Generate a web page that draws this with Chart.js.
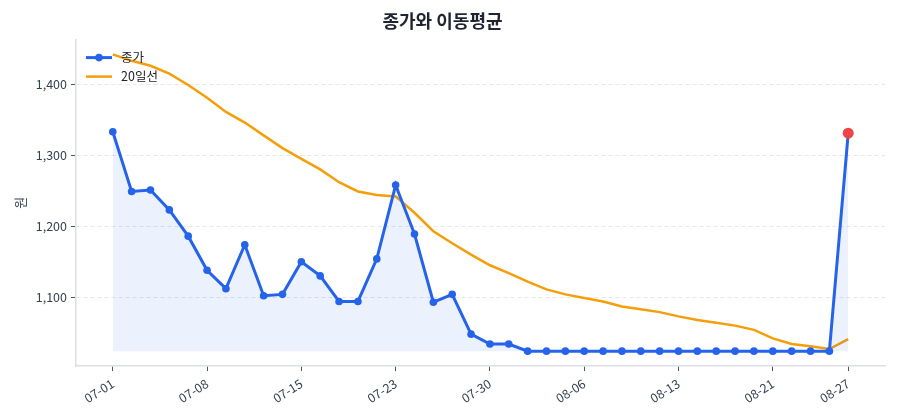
<!DOCTYPE html>
<html>
<head>
<meta charset="utf-8">
<script src="https://cdn.jsdelivr.net/npm/chart.js@4/dist/chart.umd.min.js"></script>
<style>
  html, body { margin: 0; padding: 0; background: #fff; }
  #priceChart { display: block; }
</style>
</head>
<body>
<canvas id="priceChart" width="900" height="420"></canvas>
<script>
var dates = ['07-01','07-02','07-03','07-04','07-07','07-08','07-09','07-10','07-11','07-14',
             '07-15','07-16','07-18','07-21','07-22','07-23','07-24','07-25','07-28','07-29',
             '07-30','07-31','08-01','08-04','08-05','08-06','08-07','08-08','08-11','08-12',
             '08-13','08-14','08-18','08-19','08-20','08-21','08-22','08-25','08-26','08-27'];

var closePrices = [1333, 1249, 1251, 1223, 1186, 1138, 1112, 1174, 1102, 1104,
                   1150, 1130, 1094, 1094, 1154, 1258, 1189, 1093, 1104, 1048,
                   1034, 1034, 1024, 1024, 1024, 1024, 1024, 1024, 1024, 1024,
                   1024, 1024, 1024, 1024, 1024, 1024, 1024, 1024, 1024, 1331];

var ma20 = [1442, 1433, 1426, 1415, 1399, 1381, 1361, 1346, 1328, 1310,
            1295, 1280, 1262, 1249, 1244, 1242, 1219, 1193, 1176, 1160,
            1145, 1134, 1122, 1111, 1104, 1099, 1094, 1087, 1083, 1079,
            1073, 1068, 1064, 1060, 1054, 1042, 1034, 1031, 1027, 1041];

var xTickIdx = [0, 5, 10, 15, 20, 25, 30, 35, 39];
var yTicks = [1100, 1200, 1300, 1400];

var BLUE = '#2563eb';
var ORANGE = '#f59e0b';
var RED = '#ef4444';
var FONT = "'Noto Sans CJK KR', 'Noto Sans', sans-serif";
var lastIdx = closePrices.length - 1;

function toPoints(arr) {
    return arr.map(function (v, i) { return { x: i, y: v }; });
}

var allVals = closePrices.concat(ma20);
var yMin = Math.min.apply(null, allVals);
var yMax = Math.max.apply(null, allVals);
var yPad = (yMax - yMin) * 0.05;
var xPad = lastIdx * 0.05;

// legend drawn inside the plot, top-left
var innerLegend = {
    id: 'innerLegend',
    afterDraw: function (chart) {
        var c = chart.ctx;
        var a = chart.chartArea;
        var x0 = a.left + 10, x1 = a.left + 36;
        var rows = [
            { text: '종가', color: BLUE, width: 3, dot: true },
            { text: '20일선', color: ORANGE, width: 2.5, dot: false }
        ];
        c.save();
        rows.forEach(function (r, k) {
            var y = a.top + 18 + k * 19;
            c.strokeStyle = r.color;
            c.lineWidth = r.width;
            c.beginPath();
            c.moveTo(x0, y);
            c.lineTo(x1, y);
            c.stroke();
            if (r.dot) {
                c.fillStyle = r.color;
                c.beginPath();
                c.arc((x0 + x1) / 2, y, 3.8, 0, Math.PI * 2);
                c.fill();
            }
            c.fillStyle = '#222';
            c.font = '12.5px ' + FONT;
            c.textAlign = 'left';
            c.textBaseline = 'middle';
            c.fillText(r.text, x1 + 9, y);
        });
        c.restore();
    }
};

var ctx = document.getElementById('priceChart').getContext('2d');
new Chart(ctx, {
    type: 'line',
    data: {
        datasets: [{
            label: '종가',
            data: toPoints(closePrices),
            borderColor: BLUE,
            borderWidth: 3,
            backgroundColor: 'rgba(37, 99, 235, 0.09)',
            fill: { value: Math.min.apply(null, closePrices) },
            pointRadius: function (c) { return c.dataIndex === lastIdx ? 5.5 : 3.8; },
            pointBackgroundColor: function (c) { return c.dataIndex === lastIdx ? RED : BLUE; },
            pointBorderWidth: 0,
            tension: 0,
            order: 1
        },
        {
            label: '20일선',
            data: toPoints(ma20),
            borderColor: ORANGE,
            borderWidth: 2.5,
            pointRadius: 0,
            fill: false,
            tension: 0,
            order: 2
        }]
    },
    plugins: [innerLegend],
    options: {
        responsive: false,
        animation: false,
        devicePixelRatio: 1,
        layout: { padding: { left: 0, right: 15, top: 0, bottom: 0 } },
        plugins: {
            legend: { display: false },
            tooltip: { enabled: false },
            title: {
                display: true,
                text: '종가와 이동평균',
                color: '#1f2430',
                font: { family: FONT, size: 18, weight: 'bold' },
                padding: { top: 10, bottom: 8 }
            }
        },
        scales: {
            x: {
                type: 'linear',
                min: -xPad,
                max: lastIdx + xPad,
                afterBuildTicks: function (axis) {
                    axis.ticks = xTickIdx.map(function (v) { return { value: v }; });
                },
                afterFit: function (axis) { axis.height = 54; },
                ticks: {
                    autoSkip: false,
                    minRotation: 32,
                    maxRotation: 32,
                    padding: 5,
                    color: '#374151',
                    font: { family: FONT, size: 12.5 },
                    callback: function (v) { return dates[v]; }
                },
                grid: {
                    drawOnChartArea: false,
                    drawTicks: true,
                    tickLength: 5,
                    tickColor: '#4b5563',
                    tickWidth: 1
                },
                border: { color: '#dcdfe5', width: 1.5 }
            },
            y: {
                min: yMin - yPad,
                max: yMax + yPad,
                afterBuildTicks: function (axis) {
                    axis.ticks = yTicks.map(function (v) { return { value: v }; });
                },
                afterFit: function (axis) { axis.width = 76; },
                title: {
                    display: true,
                    text: '원',
                    color: '#374151',
                    font: { family: FONT, size: 13 },
                    padding: { top: 12, bottom: 4 }
                },
                ticks: {
                    padding: 4,
                    color: '#374151',
                    font: { family: FONT, size: 12.5 },
                    callback: function (v) { return v.toLocaleString('en-US'); }
                },
                grid: {
                    color: '#e5e7eb',
                    lineWidth: 1,
                    tickLength: 5,
                    tickColor: '#4b5563',
                    tickBorderDash: []
                },
                border: { color: '#dcdfe5', width: 1.5, dash: [4, 3] }
            }
        }
    }
});
</script>
</body>
</html>
